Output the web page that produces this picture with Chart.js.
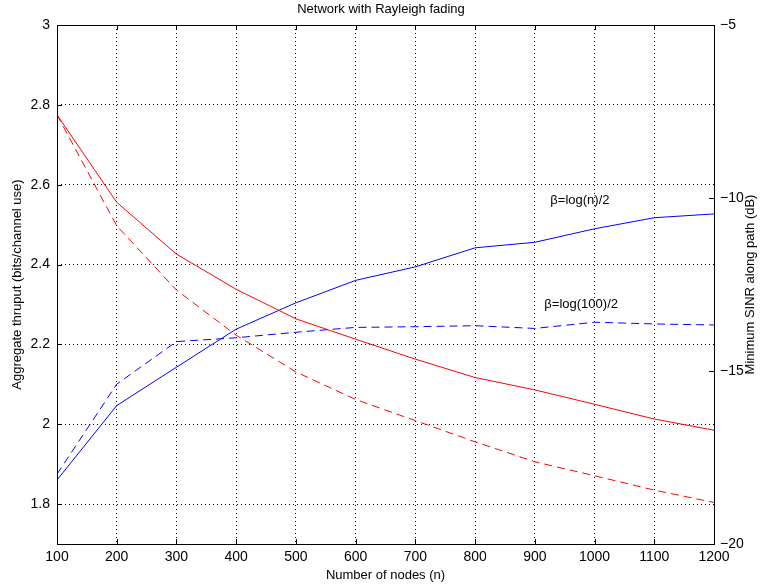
<!DOCTYPE html>
<html>
<head>
<meta charset="utf-8">
<script src="https://cdn.jsdelivr.net/npm/chart.js@4.4.0/dist/chart.umd.min.js"></script>
<style>
  html, body { margin: 0; padding: 0; background: #fff; }
  #wrap { width: 762px; height: 588px; }
</style>
</head>
<body>
<div id="wrap"><canvas id="myChart" width="762" height="588"></canvas></div>
<script>
// number of nodes
const nodes = [100, 200, 300, 400, 500, 600, 700, 800, 900, 1000, 1100, 1200];

// aggregate thruput (left axis, bits/channel use)
const thruputLogN = [2.775, 2.556, 2.426, 2.338, 2.264, 2.213, 2.163, 2.117, 2.086, 2.050, 2.013, 1.985];
const thruputLog100 = [2.775, 2.497, 2.336, 2.223, 2.131, 2.062, 2.009, 1.956, 1.906, 1.871, 1.835, 1.804];

// minimum SINR along path (right axis, dB)
const sinrLogN = [-18.15, -16.0, -14.89, -13.79, -13.03, -12.38, -11.99, -11.44, -11.28, -10.89, -10.57, -10.46];
const sinrLog100 = [-17.98, -15.38, -14.15, -14.04, -13.88, -13.74, -13.72, -13.69, -13.77, -13.59, -13.64, -13.67];

// tick labels
const xTicks = [100, 200, 300, 400, 500, 600, 700, 800, 900, 1000, 1100, 1200];
const leftTicks = [1.8, 2, 2.2, 2.4, 2.6, 2.8, 3];
const rightTicks = [-20, -15, -10, -5];

const fontFamily = "'Liberation Sans', Arial, Helvetica, sans-serif";
Chart.defaults.font.family = fontFamily;
Chart.defaults.color = '#000';

function toPoints(ys) {
  return nodes.map((n, i) => ({x: n, y: ys[i]}));
}

function setTicks(values) {
  return scale => { scale.ticks = values.map(v => ({value: v})); };
}

// box around the plot plus the little inward tick marks
const framePlugin = {
  id: 'frame',
  afterDraw(chart) {
    const {ctx, chartArea: a, scales} = chart;
    ctx.save();
    ctx.strokeStyle = '#000';
    ctx.lineWidth = 1;
    ctx.beginPath();
    const tl = 5;
    xTicks.forEach(v => {
      const px = Math.round(scales.x.getPixelForValue(v)) + 0.5;
      ctx.moveTo(px, a.bottom); ctx.lineTo(px, a.bottom - tl);
      ctx.moveTo(px, a.top); ctx.lineTo(px, a.top + tl);
    });
    leftTicks.forEach(v => {
      const py = Math.round(scales.y.getPixelForValue(v)) + 0.5;
      ctx.moveTo(a.left, py); ctx.lineTo(a.left + tl, py);
    });
    rightTicks.forEach(v => {
      const py = Math.round(scales.y2.getPixelForValue(v)) + 0.5;
      ctx.moveTo(a.right, py); ctx.lineTo(a.right - tl, py);
    });
    ctx.stroke();
    ctx.strokeRect(Math.round(a.left) + 0.5, Math.round(a.top) + 0.5,
      Math.round(a.right - a.left), Math.round(a.bottom - a.top));

    // right axis title, reading bottom to top like the left one
    ctx.font = '13px ' + fontFamily;
    ctx.fillStyle = '#000';
    ctx.textAlign = 'center';
    ctx.textBaseline = 'middle';
    ctx.translate(750, (a.top + a.bottom) / 2);
    ctx.rotate(-Math.PI / 2);
    ctx.fillText('Minimum SINR along path (dB)', 0, 0);
    ctx.restore();
  }
};

// text labels next to the SINR curves
const labelPlugin = {
  id: 'curveLabels',
  afterDatasetsDraw(chart) {
    const {ctx, scales} = chart;
    ctx.save();
    ctx.font = '13px ' + fontFamily;
    ctx.fillStyle = '#000';
    ctx.textAlign = 'left';
    ctx.textBaseline = 'middle';
    ctx.fillText('\u03b2=log(n)/2', scales.x.getPixelForValue(926), scales.y2.getPixelForValue(-10.06));
    ctx.fillText('\u03b2=log(100)/2', scales.x.getPixelForValue(916), scales.y2.getPixelForValue(-13.09));
    ctx.restore();
  }
};

const myChart = document.getElementById('myChart');

let lineChart = new Chart(myChart, {
  type: 'line',
  data: {
    datasets: [
      {
        label: 'thruput log(n)/2',
        data: toPoints(thruputLogN),
        yAxisID: 'y',
        borderColor: '#ff0000',
        borderWidth: 1
      },
      {
        label: 'thruput log(100)/2',
        data: toPoints(thruputLog100),
        yAxisID: 'y',
        borderColor: '#ff0000',
        borderWidth: 1,
        borderDash: [8, 5]
      },
      {
        label: 'SINR log(n)/2',
        data: toPoints(sinrLogN),
        yAxisID: 'y2',
        borderColor: '#0000ff',
        borderWidth: 1
      },
      {
        label: 'SINR log(100)/2',
        data: toPoints(sinrLog100),
        yAxisID: 'y2',
        borderColor: '#0000ff',
        borderWidth: 1,
        borderDash: [8, 5]
      }
    ]
  },
  options: {
    responsive: false,
    animation: false,
    events: [],
    elements: {
      point: {radius: 0},
      line: {tension: 0, fill: false}
    },
    layout: {padding: 0},
    plugins: {
      legend: {display: false},
      tooltip: {enabled: false},
      title: {
        display: true,
        text: 'Network with Rayleigh fading',
        color: '#000',
        font: {size: 13, weight: 'normal'},
        padding: {top: 2, bottom: 7.4}
      }
    },
    scales: {
      x: {
        type: 'linear',
        position: 'bottom',
        min: 100,
        max: 1200,
        afterBuildTicks: setTicks(xTicks),
        afterFit: s => { s.height = 44; },
        grid: {color: '#000', drawTicks: false, lineWidth: 1},
        border: {display: false, dash: [1, 3]},
        ticks: {font: {size: 14}, padding: 5, maxRotation: 0, autoSkip: false, callback: v => String(v)},
        title: {display: true, text: 'Number of nodes (n)', font: {size: 13}, padding: {bottom: 5}}
      },
      y: {
        type: 'linear',
        position: 'left',
        min: 1.7,
        max: 3,
        afterBuildTicks: setTicks(leftTicks),
        afterFit: s => { s.width = 57; },
        grid: {color: '#000', drawTicks: false, lineWidth: 1},
        border: {display: false, dash: [1, 3]},
        ticks: {font: {size: 14}, padding: 7, autoSkip: false, callback: v => String(Math.round(v * 10) / 10)},
        title: {display: true, text: 'Aggregate thruput (bits/channel use)', font: {size: 13}, padding: {top: 10}}
      },
      y2: {
        type: 'linear',
        position: 'right',
        min: -20,
        max: -5,
        afterBuildTicks: setTicks(rightTicks),
        afterFit: s => { s.width = 48; },
        grid: {drawOnChartArea: false, drawTicks: false},
        border: {display: false},
        ticks: {font: {size: 14}, padding: 6, autoSkip: false, callback: v => String(v).replace('-', '\u2212')},
        title: {display: false}
      }
    }
  },
  plugins: [framePlugin, labelPlugin]
});
</script>
</body>
</html>
